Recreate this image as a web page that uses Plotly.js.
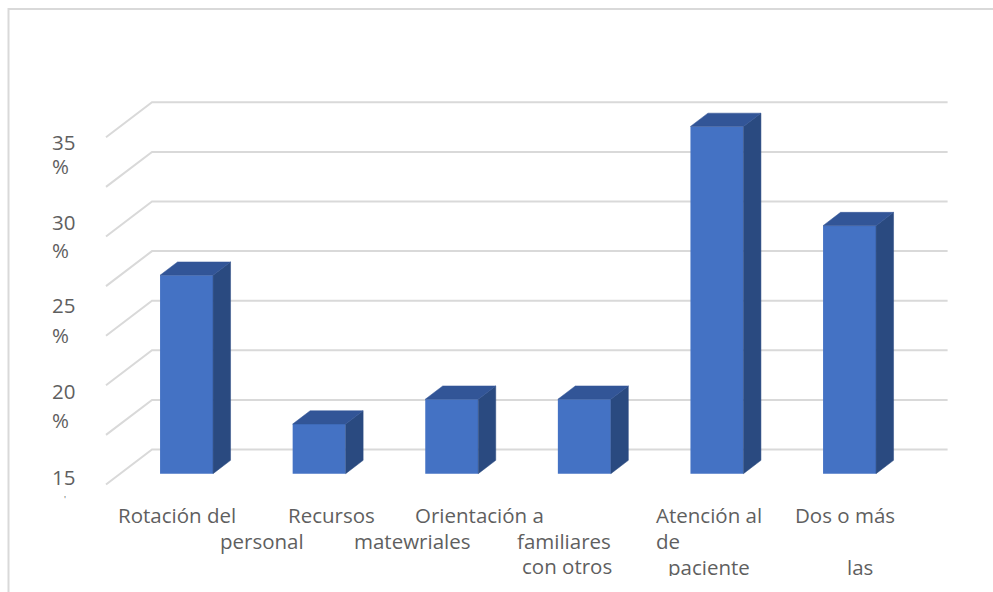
<!DOCTYPE html>
<html><head><meta charset="utf-8">
<script src="https://cdn.plot.ly/plotly-3.0.1.min.js"></script>
<style>html,body{margin:0;padding:0;background:#fff;overflow:hidden}#c{width:993px;height:592px}
#clip{position:absolute;left:640px;top:576px;width:120px;height:16px;background:#fff}</style>
</head><body><div id="c"></div><div id="clip"></div>
<script>
const categories = ["Rotación del personal","Recursos materiales","Orientación a familiares","Con otros","Atención al paciente","Dos o más"];
const values = [20,5,7.5,7.5,35,25];
const gridValues = [0,5,10,15,20,25,30,35];
const yLabels = ["35","%","30","%","25","%","20","%","15"];
const yLabelPx = [[50,142],[50,166],[50,222],[50,250],[50,305],[50,335],[50,391],[50,420],[50,477]];
const xLabels = ["Rotación del","personal","Recursos","matewriales","Orientación a","familiares","con otros","Atención al","de","paciente","Dos o más","las"];
const xLabelPx = [[116,515],[218,541],[285.5,515],[352,541],[413,515],[515,541],[520,566],[654,515],[654,541],[666,567],[793,515],[845,567]];
const strayMark = "'";

const W=993,H=592;
const pxPerCat=132.6, pxPerUnit=9.92, x0=106, y0=484.5;
const depthX=46/pxPerCat, depthY=35/pxPerUnit;
const dFront=0.31, dBack=0.69, barW=53/pxPerCat, n=categories.length;

const traces=[];
const cx=i=>i+0.5+dFront*depthX;
const ddx=(dBack-dFront)*depthX, ddy=(dBack-dFront)*depthY, base=dFront*depthY;
values.forEach((v,i)=>{
  const l=cx(i)-barW/2,r=cx(i)+barW/2,t=base+v,b=base;
  traces.push({type:'scatter',mode:'lines',fill:'toself',fillcolor:'#2a4a80',hoverinfo:'skip',showlegend:false,
    x:[r,r+ddx,r+ddx,r,r],y:[b,b+ddy,t+ddy,t,b],line:{color:'#2a4a80',width:0.5}});
  traces.push({type:'scatter',mode:'lines',fill:'toself',fillcolor:'#325597',hoverinfo:'skip',showlegend:false,
    x:[l,l+ddx,r+ddx,r,l],y:[t,t+ddy,t+ddy,t,t],line:{color:'#325597',width:0.5}});
});
traces.push({type:'bar',x:categories.map((c,i)=>cx(i)),y:values,base:values.map(()=>base),width:barW,
  marker:{color:'#4472c4',line:{width:0}},showlegend:false,hoverinfo:'skip'});

const ann=(t,p,size)=>({text:t,xref:'paper',yref:'paper',x:p[0]/W,y:1-p[1]/H,xanchor:'left',yanchor:'middle',showarrow:false,
  align:'left',font:{family:'"Open Sans",sans-serif',size:size||20.5,color:'#5f5f5f'}});
const gridShapes=gridValues.map(v=>({type:'path',xref:'x',yref:'y',layer:'below',
  path:`M 0 ${v} L ${depthX} ${v+depthY} L ${n+depthX} ${v+depthY}`,line:{color:'#d9d9d9',width:2}}));
const layout={width:W,height:H,margin:{l:0,r:0,t:0,b:0},paper_bgcolor:'#fff',plot_bgcolor:'#fff',showlegend:false,
  xaxis:{visible:false,range:[-x0/pxPerCat,(W-x0)/pxPerCat],fixedrange:true},
  yaxis:{visible:false,range:[(y0-H)/pxPerUnit,y0/pxPerUnit],fixedrange:true},
  annotations:[...yLabels.map((t,i)=>ann(t,yLabelPx[i])),...xLabels.map((t,i)=>ann(t,xLabelPx[i])),ann(strayMark,[62,499],9)],
  shapes:[...gridShapes,{type:'path',xref:'paper',yref:'paper',layer:'below',
    path:`M ${8.5/W} 0 L ${8.5/W} ${1-9/H} L 1 ${1-9/H}`,line:{color:'#d9d9d9',width:2}}]
};
Plotly.newPlot('c',traces,layout,{displayModeBar:false,staticPlot:true});
</script></body></html>
